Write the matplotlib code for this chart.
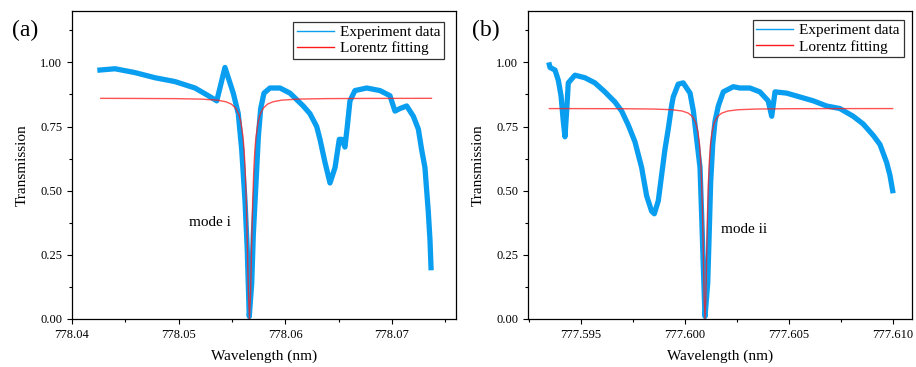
import matplotlib
matplotlib.use("Agg")
import matplotlib.pyplot as plt
from matplotlib.ticker import MultipleLocator, FormatStrFormatter

# --- DATA ---
# panel (a): mode i
wl_a = [778.04262, 778.04403, 778.04591, 778.04778, 778.04966, 778.05153, 778.05278,
        778.05357, 778.05387, 778.05434, 778.05512, 778.05559, 778.05591, 778.05622,
        778.05643, 778.05662, 778.05685, 778.05700, 778.05725, 778.05747, 778.05769,
        778.05800, 778.05856, 778.05950, 778.06044, 778.06168, 778.06231, 778.06294,
        778.06325, 778.06372, 778.06419, 778.06466, 778.06506, 778.06528, 778.06559,
        778.06581, 778.06606, 778.06653, 778.06763, 778.06887, 778.06981, 778.07028,
        778.07075, 778.07138, 778.07200, 778.07247, 778.07278, 778.07309, 778.07340,
        778.07356, 778.07366]
tr_a = [0.97, 0.975, 0.96, 0.94, 0.925, 0.90, 0.87,
        0.85, 0.90, 0.98, 0.88, 0.80, 0.66, 0.46,
        0.27, 0.01, 0.14, 0.33, 0.53, 0.71, 0.82,
        0.88, 0.90, 0.90, 0.88, 0.83, 0.80, 0.75,
        0.70, 0.61, 0.53, 0.59, 0.70, 0.70, 0.67,
        0.75, 0.85, 0.89, 0.90, 0.89, 0.87, 0.81,
        0.82, 0.83, 0.79, 0.74, 0.66, 0.59, 0.42,
        0.31, 0.20]

fit_wl_a = [778.0427, 778.04564, 778.04964, 778.05214, 778.05364, 778.05444, 778.05494,
            778.05534, 778.05564, 778.05584, 778.05604, 778.05614, 778.05624, 778.05634,
            778.05644, 778.05654, 778.05664, 778.05674, 778.05684, 778.05694, 778.05704,
            778.05714, 778.05724, 778.05744, 778.05764, 778.05794, 778.05834, 778.05884,
            778.05964, 778.06114, 778.06364, 778.06764, 778.0737]
fit_tr_a = [0.8597, 0.8594, 0.8586, 0.8567, 0.8526, 0.8463, 0.8373,
            0.8219, 0.7975, 0.766, 0.7062, 0.655, 0.5772, 0.4596,
            0.290, 0.0973, 0.0, 0.0973, 0.290, 0.4596, 0.5772,
            0.655, 0.7062, 0.766, 0.7975, 0.8219, 0.8373, 0.8463,
            0.8526, 0.8567, 0.8586, 0.8594, 0.8598]

# panel (b): mode ii
wl_b = [777.59348, 777.59351, 777.59375, 777.59391, 777.59404, 777.59415, 777.59423,
        777.59431, 777.59439, 777.59471, 777.59519, 777.59567, 777.59615, 777.59664,
        777.59696, 777.59728, 777.59760, 777.59792, 777.59816, 777.59840, 777.59853,
        777.59872, 777.59888, 777.59904, 777.59920, 777.59936, 777.59944, 777.59968,
        777.59992, 777.60025, 777.60041, 777.60057, 777.60073, 777.60081, 777.60089,
        777.60097, 777.60110, 777.60117, 777.60124, 777.60134, 777.60145, 777.60161,
        777.60185, 777.60233, 777.60265, 777.60313, 777.60361, 777.60401, 777.60418,
        777.60434, 777.60490, 777.60554, 777.60618, 777.60682, 777.60746, 777.60810,
        777.60858, 777.60907, 777.60939, 777.60971, 777.60987, 777.61000]
tr_b = [0.99, 0.98, 0.97, 0.93, 0.87, 0.77, 0.71,
        0.81, 0.92, 0.95, 0.94, 0.92, 0.885, 0.845,
        0.81, 0.755, 0.69, 0.59, 0.48, 0.42, 0.41,
        0.46, 0.56, 0.66, 0.74, 0.83, 0.865, 0.915,
        0.92, 0.88, 0.81, 0.70, 0.59, 0.40, 0.20,
        0.01, 0.14, 0.33, 0.53, 0.68, 0.77, 0.83,
        0.885, 0.905, 0.90, 0.90, 0.885, 0.85, 0.79,
        0.885, 0.88, 0.865, 0.85, 0.83, 0.82, 0.79,
        0.76, 0.715, 0.68, 0.61, 0.56, 0.50]

fit_wl_b = [777.59348, 777.59447, 777.59697, 777.59847, 777.59937, 777.59987, 777.60017,
            777.60037, 777.60052, 777.60063, 777.60071, 777.60077, 777.60081, 777.60085,
            777.60089, 777.60093, 777.60097, 777.60101, 777.60105, 777.60109, 777.60113,
            777.60117, 777.60123, 777.60131, 777.60142, 777.60157, 777.60177, 777.60207,
            777.60257, 777.60347, 777.60497, 777.60747, 777.61000]
fit_tr_b = [0.8198, 0.8198, 0.8193, 0.8181, 0.8154, 0.8104, 0.802,
            0.7885, 0.7656, 0.729, 0.676, 0.603, 0.525, 0.41,
            0.252, 0.082, 0.0, 0.082, 0.252, 0.41, 0.525,
            0.603, 0.676, 0.729, 0.7656, 0.7885, 0.802, 0.8104,
            0.8154, 0.8181, 0.8193, 0.8198, 0.8199]

BLUE = "#0a9ef0"
RED = "#ff1a1a"

plt.rcParams['font.family'] = ['Liberation Serif', 'DejaVu Serif']
plt.rcParams['axes.linewidth'] = 0.9

fig = plt.figure(figsize=(9.16, 3.67), dpi=100)
ax_a = fig.add_axes([0.0786, 0.1308, 0.4192, 0.8392])
ax_b = fig.add_axes([0.5764, 0.1308, 0.4192, 0.8392])


def style_axis(ax, xmaj, xmin, fmt):
    ax.set_ylim(0, 1.2)
    ax.yaxis.set_major_locator(MultipleLocator(0.25))
    ax.yaxis.set_minor_locator(MultipleLocator(0.125))
    ax.yaxis.set_major_formatter(FormatStrFormatter('%.2f'))
    ax.xaxis.set_major_locator(MultipleLocator(xmaj))
    ax.xaxis.set_minor_locator(MultipleLocator(xmin))
    ax.xaxis.set_major_formatter(FormatStrFormatter(fmt))
    ax.tick_params(which='major', direction='out', length=3.5, width=0.8, labelsize=9)
    ax.tick_params(which='minor', direction='out', length=2, width=0.8)
    ax.set_xlabel("Wavelength (nm)", fontsize=11, labelpad=6)
    ax.set_ylabel("Transmission", fontsize=11, labelpad=8)


def add_legend(ax, anchor):
    leg = ax.legend(loc='upper right', bbox_to_anchor=anchor, borderaxespad=0,
                    fontsize=11, frameon=True, fancybox=False, handlelength=2.4,
                    borderpad=0.25, labelspacing=0.15, handletextpad=0.4)
    leg.get_frame().set_edgecolor('black')
    leg.get_frame().set_linewidth(0.9)
    for h in leg.get_lines():
        h.set_linewidth(1.0)
        h.set_alpha(1.0)


# --- Panel (a) ---
ax_a.plot(wl_a, tr_a, color=BLUE, lw=3.8, label="Experiment data", solid_joinstyle='round')
ax_a.plot(fit_wl_a, fit_tr_a, color=RED, lw=1.0, alpha=0.75, label="Lorentz fitting")
ax_a.set_xlim(778.04, 778.076)
style_axis(ax_a, 0.01, 0.005, '%.2f')
ax_a.text(778.05289, 0.375, "mode i", fontsize=11, ha='center', va='center')
add_legend(ax_a, (0.969, 0.965))
fig.text(0.013, 0.918, "(a)", fontsize=17, ha='left', va='center')

# --- Panel (b) ---
ax_b.plot(wl_b, tr_b, color=BLUE, lw=3.8, label="Experiment data", solid_joinstyle='round')
ax_b.plot(fit_wl_b, fit_tr_b, color=RED, lw=1.0, alpha=0.75, label="Lorentz fitting")
ax_b.set_xlim(777.59245, 777.61093)
style_axis(ax_b, 0.005, 0.0025, '%.3f')
ax_b.text(777.60174, 0.349, "mode ii", fontsize=11, ha='left', va='center')
add_legend(ax_b, (0.978, 0.971))
fig.text(0.515, 0.918, "(b)", fontsize=17, ha='left', va='center')

plt.savefig("out.png", dpi=100)
